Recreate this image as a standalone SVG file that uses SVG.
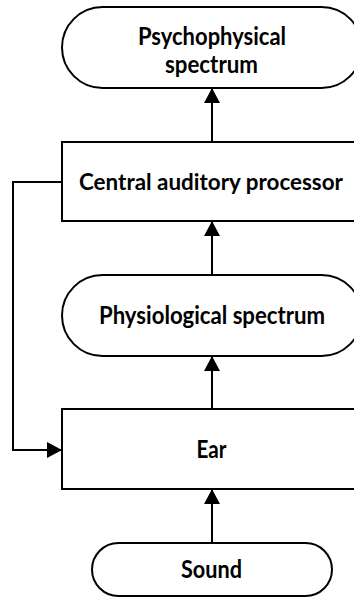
<svg xmlns="http://www.w3.org/2000/svg" width="354" height="597" viewBox="0 0 354 597">
  <defs>
    <marker id="arrow" markerUnits="userSpaceOnUse" markerWidth="16" markerHeight="16" refX="15" refY="8" orient="auto">
      <path d="M0,0 L15,8 L0,16 Z" fill="#000"/>
    </marker>
    <style>
      .shape { fill: #fff; stroke: #000; stroke-width: 2; }
      .label { font-family: "Lato", "Liberation Sans", sans-serif; font-weight: bold; font-size: 24px; fill: #000; text-anchor: middle; }
      .wide { font-size: 22px; }
      .link { fill: none; stroke: #000; stroke-width: 2; marker-end: url(#arrow); }
    </style>
  </defs>

  <rect width="354" height="597" fill="#fff"/>

  <g id="connectors">
    <line class="link" x1="212" y1="142" x2="212" y2="88"/>
    <line class="link" x1="212" y1="275" x2="212" y2="221"/>
    <line class="link" x1="212" y1="409" x2="212" y2="356"/>
    <line class="link" x1="212" y1="543" x2="212" y2="489"/>
    <polyline class="link" points="62,182 13,182 13,450 62,450"/>
  </g>

  <g id="psychophysical-spectrum">
    <rect class="shape" x="62" y="7" width="300" height="81" rx="40.5" ry="40.5"/>
    <text class="label" x="212" y="45" textLength="148" lengthAdjust="spacingAndGlyphs">Psychophysical</text>
    <text class="label" x="211.5" y="73" textLength="93" lengthAdjust="spacingAndGlyphs">spectrum</text>
  </g>

  <g id="central-auditory-processor">
    <rect class="shape" x="62" y="142" width="300" height="79"/>
    <text class="label wide" x="211" y="190" textLength="264" lengthAdjust="spacingAndGlyphs">Central auditory processor</text>
  </g>

  <g id="physiological-spectrum">
    <rect class="shape" x="62" y="275" width="300" height="81" rx="40.5" ry="40.5"/>
    <text class="label" x="212" y="324" textLength="226" lengthAdjust="spacingAndGlyphs">Physiological spectrum</text>
  </g>

  <g id="ear">
    <rect class="shape" x="62" y="409" width="300" height="80"/>
    <text class="label" x="211.5" y="458" textLength="30" lengthAdjust="spacingAndGlyphs">Ear</text>
  </g>

  <g id="sound">
    <rect class="shape" x="92" y="543" width="240" height="53" rx="26.5" ry="26.5"/>
    <text class="label" x="211.5" y="578" textLength="61" lengthAdjust="spacingAndGlyphs">Sound</text>
  </g>
</svg>
